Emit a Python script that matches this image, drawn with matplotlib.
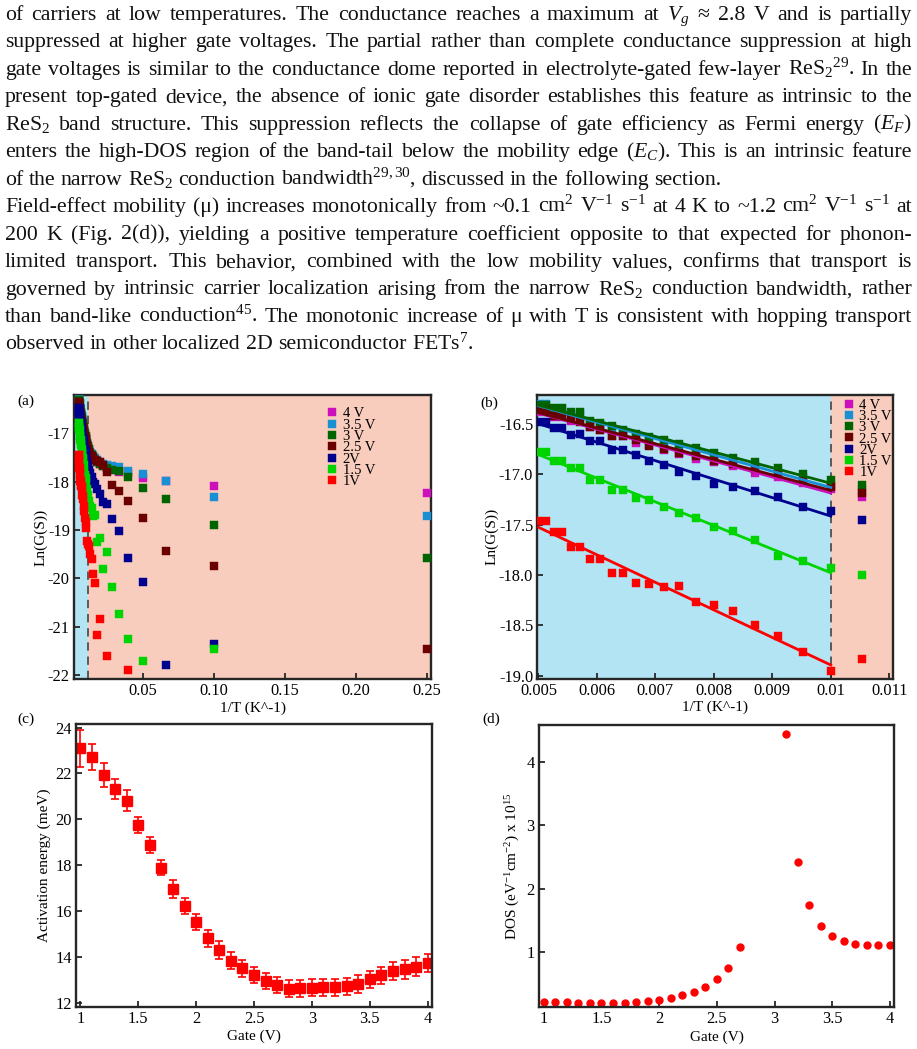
import numpy as np
import matplotlib
matplotlib.use("Agg")
import matplotlib.pyplot as plt

plt.rcParams['font.family'] = ['Liberation Serif', 'DejaVu Serif']
plt.rcParams['mathtext.fontset'] = 'custom'
plt.rcParams['mathtext.rm'] = 'Liberation Serif'
plt.rcParams['mathtext.it'] = 'Liberation Serif:italic'
plt.rcParams['mathtext.bf'] = 'Liberation Serif:bold'
plt.rcParams['axes.unicode_minus'] = False

nan = np.nan

# ---------------- data ----------------
temps = [200, 195, 190, 185, 180, 175, 170, 165, 160, 155, 150, 145, 140, 135, 130,
         125, 120, 115, 110, 105, 100, 95, 90, 85, 80, 75, 70, 65, 60, 55, 50, 45,
         40, 35, 30, 25, 20, 15, 10, 4]

lnG_4V = [-16.38, -16.38, -16.43, -16.43, -16.47, -16.47, -16.53, -16.56, -16.62, -16.62,
          -16.69, -16.71, -16.76, -16.80, -16.85, -16.88, -16.92, -16.99, -17.03, -17.08,
          -17.14, -17.22, -17.22, -17.30, -17.36, -17.42, -17.47, -17.52, -17.56, -17.60,
          -17.64, -17.68, -17.72, -17.76, -17.80, -17.82, -17.93, -17.99, -18.10, -18.24]
lnG_35V = [-16.30, -16.30, -16.35, -16.35, -16.40, -16.40, -16.49, -16.50, -16.55, -16.58,
           -16.62, -16.65, -16.69, -16.72, -16.77, -16.82, -16.86, -16.91, -16.97, -17.03,
           -17.10, -17.15, -17.20, -17.27, -17.33, -17.38, -17.43, -17.48, -17.52, -17.56,
           -17.60, -17.63, -17.65, -17.67, -17.70, -17.79, -17.85, -17.98, -18.31, -18.71]
lnG_3V = [-16.31, -16.31, -16.34, -16.34, -16.38, -16.38, -16.47, -16.49, -16.52, -16.56,
          -16.60, -16.63, -16.66, -16.70, -16.74, -16.79, -16.84, -16.88, -16.94, -17.00,
          -17.05, -17.10, -17.20, -17.27, -17.33, -17.40, -17.45, -17.50, -17.55, -17.60,
          -17.63, -17.67, -17.72, -17.76, -17.79, -17.90, -18.13, -18.36, -18.89, -19.57]
lnG_25V = [-16.36, -16.36, -16.42, -16.42, -16.45, -16.48, -16.53, -16.56, -16.62, -16.62,
           -16.66, -16.72, -16.75, -16.79, -16.82, -16.87, -16.90, -16.95, -17.00, -17.06,
           -17.12, -17.18, -17.25, -17.32, -17.38, -17.43, -17.48, -17.52, -17.55, -17.58,
           -17.60, -17.65, -17.80, -18.06, -18.20, -18.40, -18.75, -19.43, -19.74, -21.45]
lnG_2V = [-16.48, -16.48, -16.54, -16.54, -16.61, -16.60, -16.67, -16.67, -16.76, -16.76,
          -16.81, -16.87, -16.91, -16.98, -17.02, -17.09, -17.12, -17.16, -17.22, -17.32,
          -17.36, -17.45, -17.58, -17.68, -17.76, -17.82, -17.90, -18.00, -18.05, -18.15,
          -18.25, -18.43, -18.47, -18.78, -19.02, -19.57, -20.08, -21.80, -21.36, nan]
lnG_15V = [-16.78, -16.78, -16.87, -16.87, -16.94, -16.94, -17.05, -17.05, -17.15, -17.15,
           -17.23, -17.25, -17.32, -17.38, -17.43, -17.52, -17.56, -17.65, -17.81, -17.86,
           -17.93, -18.00, -18.15, -18.27, -18.40, -18.50, -18.55, -18.72, -18.69, -19.24,
           -19.17, -19.81, -19.45, -20.17, -20.73, -21.26, -21.70, nan, -21.45, nan]
lnG_1V = [-17.46, -17.46, -17.57, -17.57, -17.72, -17.72, -17.84, -17.84, -17.98, -17.98,
          -18.08, -18.09, -18.12, -18.11, -18.27, -18.30, -18.36, -18.50, -18.61, -18.76,
          -18.95, -18.83, -19.22, -19.28, -19.34, -19.50, -19.59, -19.91, -20.09, -21.17,
          -20.84, nan, -21.60, nan, nan, -21.89, nan, nan, nan, nan]

series_labels = ["4 V", "3.5 V", "3 V", "2.5 V", "2V", "1.5 V", "1V"]
series_values = [lnG_4V, lnG_35V, lnG_3V, lnG_25V, lnG_2V, lnG_15V, lnG_1V]
series_colors = ['#cc10bb', '#1a90d4', '#006400', '#6a0000', '#00008e', '#00d400', '#ff0000']

gate = [1.0, 1.1, 1.2, 1.3, 1.4, 1.5, 1.6, 1.7, 1.8, 1.9, 2.0, 2.1, 2.2, 2.3, 2.4, 2.5,
        2.6, 2.7, 2.8, 2.9, 3.0, 3.1, 3.2, 3.3, 3.4, 3.5, 3.6, 3.7, 3.8, 3.9, 4.0]
act_energy = [23.1, 22.73, 21.95, 21.31, 20.81, 19.75, 18.88, 17.89, 16.96, 16.23, 15.51,
              14.81, 14.30, 13.83, 13.50, 13.19, 12.95, 12.77, 12.61, 12.63, 12.65, 12.67,
              12.68, 12.71, 12.81, 13.02, 13.19, 13.40, 13.45, 13.57, 13.73]
act_err = [0.80, 0.57, 0.52, 0.44, 0.46, 0.36, 0.33, 0.34, 0.39, 0.35, 0.36, 0.37, 0.38,
           0.37, 0.37, 0.35, 0.36, 0.37, 0.37, 0.37, 0.37, 0.37, 0.37, 0.38, 0.40, 0.38,
           0.38, 0.39, 0.40, 0.41, 0.41]
dos = [0.21, 0.21, 0.21, 0.205, 0.20, 0.20, 0.20, 0.205, 0.21, 0.226, 0.247, 0.28, 0.32,
       0.373, 0.457, 0.572, 0.756, 1.076, nan, nan, nan, 4.44, 2.42, 1.75, 1.42, 1.255,
       1.176, 1.134, 1.118, 1.113, 1.113]

b_xticks = [0.005, 0.006, 0.007, 0.008, 0.009, 0.01, 0.011]
b_xticklabels = ['0.005', '0.006', '0.007', '0.008', '0.009', '0.01', '0.011']

paragraph_lines = [
    ("of carriers at low temperatures. The conductance reaches a maximum at $V_g$ ≈ 2.8 V and is partially", True),
    ("suppressed at higher gate voltages. The partial rather than complete conductance suppression at high", True),
    ("gate voltages is similar to the conductance dome reported in electrolyte-gated few-layer ReS$_2$$^{29}$. In the", True),
    ("present top-gated device, the absence of ionic gate disorder establishes this feature as intrinsic to the", True),
    ("ReS$_2$ band structure. This suppression reflects the collapse of gate efficiency as Fermi energy ($E_F$)", True),
    ("enters the high-DOS region of the band-tail below the mobility edge ($E_C$). This is an intrinsic feature", True),
    ("of the narrow ReS$_2$ conduction bandwidth$^{29,30}$, discussed in the following section.", False),
    ("Field-effect mobility (μ) increases monotonically from ~0.1 cm$^2$ V$^{-1}$ s$^{-1}$ at 4 K to ~1.2 cm$^2$ V$^{-1}$ s$^{-1}$ at", True),
    ("200 K (Fig. 2(d)), yielding a positive temperature coefficient opposite to that expected for phonon-", True),
    ("limited transport. This behavior, combined with the low mobility values, confirms that transport is", True),
    ("governed by intrinsic carrier localization arising from the narrow ReS$_2$ conduction bandwidth, rather", True),
    ("than band-like conduction$^{45}$. The monotonic increase of μ with T is consistent with hopping transport", True),
    ("observed in other localized 2D semiconductor FETs$^{7}$.", False),
]

# ---------------- figure ----------------
W, H = 917, 1049
fig = plt.figure(figsize=(W / 100, H / 100), dpi=100)
renderer = fig.canvas.get_renderer()

blue_bg = '#b3e4f4'
salmon_bg = '#f9cdbd'
spine_c = '#262626'


def add_ax(l, t, r, b):
    return fig.add_axes([l / W, 1 - b / H, (r - l) / W, (b - t) / H])


def style(ax):
    for s in ax.spines.values():
        s.set_linewidth(1.7)
        s.set_color(spine_c)
    ax.tick_params(direction='in', length=4, width=1.3, labelsize=11.8, pad=3,
                   color=spine_c, top=False, right=False)


# paragraph text, justified; font size chosen so the widest line fits with normal spacing
x_left, x_right = 5, 912
probe = []
for line, justify in paragraph_lines:
    t = fig.text(0, 0, line, fontsize=10)
    probe.append(t.get_window_extent(renderer).width)
    t.remove()
fs = 10 * 0.985 * (x_right - x_left) / max(probe)
space_px = 0.25 * fs * 100 / 72
for i, (line, justify) in enumerate(paragraph_lines):
    yb = 20 + i * 27.45
    words = line.split(' ')
    objs = [fig.text(0, 1 - yb / H, w, fontsize=fs, va='baseline', ha='left', color='#111111')
            for w in words]
    widths = [o.get_window_extent(renderer).width for o in objs]
    gap = (x_right - x_left - sum(widths)) / (len(words) - 1) if justify else space_px
    x = x_left
    for o, w in zip(objs, widths):
        o.set_x(x / W)
        x += w + gap

inv_T = 1.0 / np.array(temps)
leg_kw = dict(loc='upper left', frameon=False, fontsize=10.5, handlelength=0.8,
              handletextpad=0.3, borderpad=0, borderaxespad=0, labelspacing=-0.13,
              markerscale=0.9)

# (a)
axa = add_ax(74, 395, 431, 679)
style(axa)
xa_lim = (0.0018, 0.253)
xa_dash = 0.0117
axa.set_facecolor(salmon_bg)
axa.axvspan(xa_lim[0], xa_dash, color=blue_bg, lw=0, zorder=0)
axa.axvline(xa_dash, color='#444444', ls=(0, (5, 3.5)), lw=1.2, zorder=1)
for lab, vals, col in zip(series_labels, series_values, series_colors):
    axa.plot(inv_T, vals, 's', ms=6, color=col, mec=col, mew=0.3, label=lab, zorder=3)
axa.set_xlim(*xa_lim)
axa.set_ylim(-22.08, -16.21)
axa.set_xticks([0.05, 0.10, 0.15, 0.20, 0.25])
axa.set_xticklabels(['0.05', '0.10', '0.15', '0.20', '0.25'])
axa.set_yticks([-17, -18, -19, -20, -21, -22])
axa.set_xlabel('1/T (K^-1)', fontsize=11, labelpad=1.5)
axa.set_ylabel('Ln(G(S))', fontsize=11, labelpad=0.5)
axa.legend(bbox_to_anchor=(0.7076, 0.957), **leg_kw)

# (b): only the 95-200 K points
axb = add_ax(537.3, 395, 893.3, 678.7)
style(axb)
xb_lim = (0.00498, 0.01107)
xb_dash = 0.01
axb.set_facecolor(salmon_bg)
axb.axvspan(xb_lim[0], xb_dash, color=blue_bg, lw=0, zorder=0)
axb.axvline(xb_dash, color='#444444', ls=(0, (5, 3.5)), lw=1.2, zorder=1)
show_b = np.array(temps) >= 95
fit_mask = np.array(temps) >= 100
for lab, vals, col in zip(series_labels, series_values, series_colors):
    v = np.array(vals)
    axb.plot(inv_T[show_b], v[show_b], 's', ms=6, color=col, mec=col, mew=0.3,
             label=lab, zorder=3)
    k, c0 = np.polyfit(inv_T[fit_mask], v[fit_mask], 1)
    xf = np.array([0.005, 0.01])
    axb.plot(xf, k * xf + c0, '-', color=col, lw=2, zorder=4)
axb.set_xlim(*xb_lim)
axb.set_ylim(-19.03, -16.21)
axb.set_xticks(b_xticks)
axb.set_xticklabels(b_xticklabels)
axb.set_yticks([-16.5, -17.0, -17.5, -18.0, -18.5, -19.0])
axb.set_yticklabels(['-16.5', '-17.0', '-17.5', '-18.0', '-18.5', '-19.0'])
axb.set_xlabel('1/T (K^-1)', fontsize=11, labelpad=1.5)
axb.set_ylabel('Ln(G(S))', fontsize=11, labelpad=0.5)
axb.legend(bbox_to_anchor=(0.8596, 0.988), **leg_kw)

# (c)
axc = add_ax(76.3, 724, 432.3, 1007)
style(axc)
axc.errorbar(gate, act_energy, yerr=act_err, fmt='s', ms=6.5, color='#ff0000',
             ecolor='#ff0000', elinewidth=1.2, capsize=3, capthick=1.2)
axc.set_xlim(0.965, 4.04)
axc.set_ylim(11.81, 24.16)
axc.set_xticks([1, 1.5, 2, 2.5, 3, 3.5, 4])
axc.set_xticklabels(['1', '1.5', '2', '2.5', '3', '3.5', '4'])
axc.set_yticks([12, 14, 16, 18, 20, 22, 24])
axc.set_xlabel('Gate (V)', fontsize=11, labelpad=2)
axc.set_ylabel('Activation energy (meV)', fontsize=11, labelpad=3)

# (d)
axd = add_ax(539, 725, 894.3, 1007.3)
style(axd)
axd.plot(gate, dos, 'o', ms=5, color='#ff0000', mec='#ff0000')
axd.set_xlim(0.959, 4.037)
axd.set_ylim(0.134, 4.58)
axd.set_xticks([1, 1.5, 2, 2.5, 3, 3.5, 4])
axd.set_xticklabels(['1', '1.5', '2', '2.5', '3', '3.5', '4'])
axd.set_yticks([1, 2, 3, 4])
axd.set_xlabel('Gate (V)', fontsize=11, labelpad=2)
axd.set_ylabel('DOS (eV$^{-1}$cm$^{-2}$) x 10$^{15}$', fontsize=11, labelpad=3)

# panel letters
for lab, px, py in [('(a)', 17, 401), ('(b)', 480, 403), ('(c)', 17, 719), ('(d)', 482, 719)]:
    fig.text(px / W, 1 - py / H, lab, fontsize=11, va='center', ha='left')

fig.savefig('out.png', dpi=100)
